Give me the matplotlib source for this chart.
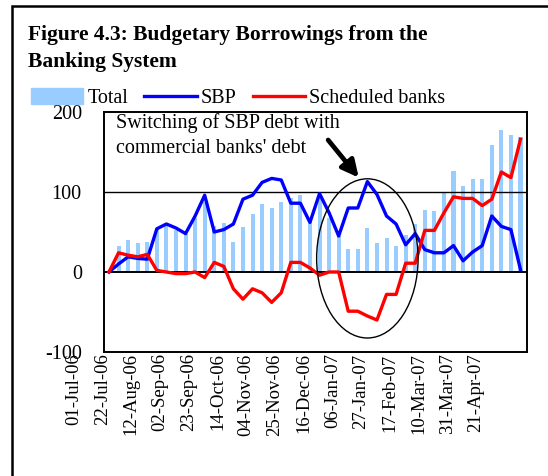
import matplotlib
matplotlib.use('Agg')
import matplotlib.pyplot as plt
from matplotlib.patches import Ellipse, Rectangle, Patch
from matplotlib.lines import Line2D
from matplotlib.transforms import ScaledTranslation
import numpy as np
import pandas as pd

# weekly observations, 01-Jul-06 onwards
dates = pd.date_range('2006-07-01', periods=44, freq='7D').strftime('%d-%b-%y').tolist()

total = [0, 33, 40, 36, 37, 55, 58, 53, 47, 68, 88, 58, 61, 37, 56, 73, 85, 80, 87, 93,
         96, 63, 96, 68, 45, 29, 29, 55, 36, 42, 33, 46, 60, 77, 76, 100, 126, 107, 116, 116,
         159, 178, 171, 169]
sbp = [0, 10, 19, 17, 16, 54, 60, 55, 48, 70, 96, 50, 53, 60, 91, 96, 112, 117, 115, 86,
       86, 62, 98, 74, 45, 80, 80, 113, 97, 70, 60, 34, 48, 28, 24, 24, 33, 14, 25, 33,
       70, 57, 53, 3]
sched = [0, 24, 21, 19, 22, 2, 0, -2, -2, 0, -7, 12, 7, -21, -34, -21, -26, -38, -26, 12,
         12, 5, -4, 0, 0, -49, -49, -55, -60, -28, -28, 11, 11, 52, 52, 74, 94, 92, 92, 83,
         91, 125, 118, 166]

serif = ['Liberation Serif', 'DejaVu Serif']
plt.rcParams['font.family'] = serif
plt.rcParams['axes.unicode_minus'] = False

W, H = 548, 476
fig = plt.figure(figsize=(W / 100, H / 100), dpi=100)
ax = fig.add_axes([104 / W, 1 - 352 / H, 423 / W, 240 / H])

x = np.arange(len(dates))
ax.bar(x, total, width=0.42, color='#99CCFF', zorder=1)
ax.axhline(100, color='black', lw=1.0, zorder=2)
ax.axhline(0, color='black', lw=1.4, zorder=2)
ax.plot(x, sbp, color='#0000FF', lw=2.4, zorder=3)
ax.plot(x, sched, color='#FF0000', lw=2.4, zorder=3)

ax.set_xlim(-0.52, 43.68)
ax.set_ylim(-100, 200)
ax.set_yticks([-100, 0, 100, 200])
ax.tick_params(axis='y', length=0, pad=16, labelsize=14.5)
ax.set_xticks(x[::3])
ax.set_xticklabels(dates[::3], rotation=90, fontsize=13.5)
ax.tick_params(axis='x', length=0, pad=1)
for lab in ax.get_xticklabels():
    lab.set_transform(lab.get_transform() + ScaledTranslation(-35 / 100, 0, fig.dpi_scale_trans))
for s in ax.spines.values():
    s.set_linewidth(1.4)

# circled region + arrow
ax.add_patch(Ellipse((27.0, 17), 10.6, 199, fill=False, ec='black', lw=1.0, zorder=4))
ax.annotate('', xy=(26.1, 118), xytext=(22.9, 165),
            arrowprops=dict(arrowstyle='-|>,head_width=0.5,head_length=1.0',
                            color='black', lw=3.4, shrinkA=0, shrinkB=0), zorder=5)
fig.text(116 / W, 1 - 113 / H, "Switching of SBP debt with\ncommercial banks' debt",
         fontsize=14.5, va='top', ha='left', linespacing=1.45)

# title
fig.text(28 / W, 1 - 25 / H, 'Figure 4.3: Budgetary Borrowings from the\nBanking System',
         fontsize=15.5, fontweight='bold', va='top', ha='left', linespacing=1.5)

# legend
handles = [Patch(color='#99CCFF'),
           Line2D([], [], color='#0000FF', lw=2.4),
           Line2D([], [], color='#FF0000', lw=2.4)]
fig.legend(handles, ['Total', 'SBP', 'Scheduled banks'], ncol=3, frameon=False,
           loc='upper left', bbox_to_anchor=(31 / W, 1 - 88 / H), borderpad=0,
           borderaxespad=0, fontsize=14.5, handlelength=2.6, handleheight=0.85,
           handletextpad=0.2, columnspacing=0.8)

# outer frame
fig.add_artist(Rectangle((11.5 / W, -0.1), 1.2, 1 - 6.3 / H + 0.1, transform=fig.transFigure,
                         fill=False, ec='black', lw=1.8))

fig.savefig('out.png', dpi=100)
